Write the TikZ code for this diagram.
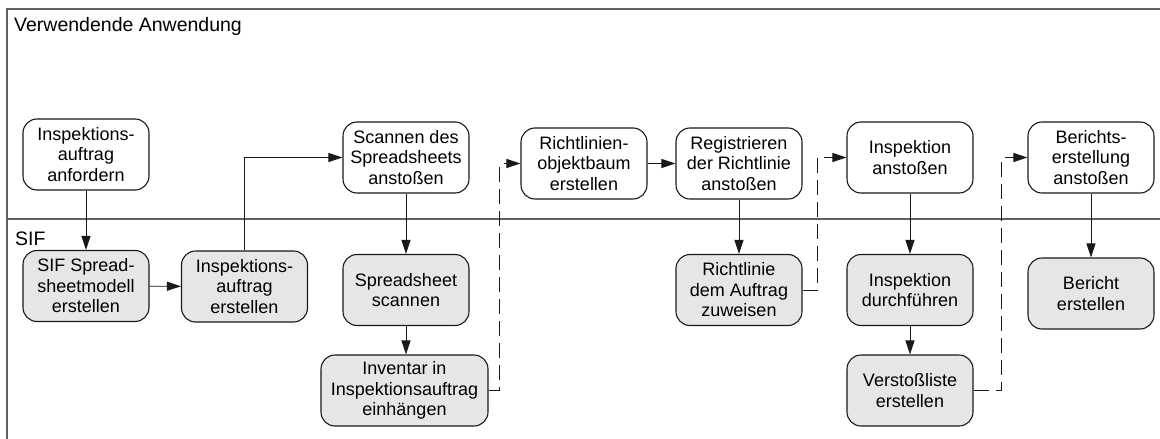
\documentclass[tikz,border=0pt]{standalone}
\usepackage{fontspec}
\setmainfont{Liberation Sans}
\usetikzlibrary{arrows.meta}
\definecolor{boxfill}{RGB}{230,230,230}
\definecolor{framegray}{RGB}{95,95,95}
\definecolor{edgeblack}{RGB}{25,25,25}

\begin{document}
\begin{tikzpicture}[x=1pt,y=-1pt,
  proc/.style={draw=edgeblack, line width=1.1pt, rounded corners=14pt,
    minimum width=126pt, minimum height=71pt, inner sep=0pt,
    align=center, font=\fontsize{18}{20.5}\selectfont},
  sys/.style={proc, fill=boxfill},
  flow/.style={draw=edgeblack, line width=0.9pt, -{Triangle[length=14pt,width=9pt]}},
  handoff/.style={flow, dash pattern=on 15pt off 7pt},
  lane/.style={line width=1.4pt, draw=framegray},
  lanelabel/.style={anchor=base west, inner sep=0pt, font=\fontsize{19.5}{22}\selectfont}]

\useasboundingbox (0,0) rectangle (1160,439);

% swimlane frame
\draw[lane] (1160,9) -- (7,9) -- (7,439);
\draw[lane] (7,219) -- (1160,219);
\node[lanelabel] (laneA) at (14,31.5) {Verwendende Anwendung};
\node[lanelabel] (laneB) at (15,245) {SIF};

% calling application
\node[proc] (req)   at (86,154.5)  {Inspektions-\\auftrag\\anfordern};
\node[proc] (scanA) at (406,157.5) {Scannen des\\Spreadsheets\\anstoßen};
\node[proc] (tree)  at (584,163.5) {Richtlinien-\\objektbaum\\erstellen};
\node[proc] (reg)   at (739,163.5) {Registrieren\\der Richtlinie\\anstoßen};
\node[proc] (inspA) at (910,157.5) {Inspektion\\anstoßen};
\node[proc] (repA)  at (1091,157.5) {Berichts-\\erstellung\\anstoßen};

% SIF
\node[sys] (model)  at (86,286)    {SIF Spread-\\sheetmodell\\erstellen};
\node[sys] (order)  at (244.5,286.5) {Inspektions-\\auftrag\\erstellen};
\node[sys] (scan)   at (406,290)   {Spreadsheet\\scannen};
\node[sys, minimum width=167pt] (inv) at (404.5,390.5) {Inventar in\\Inspektionsauftrag\\einhängen};
\node[sys] (assign) at (739,290)   {Richtlinie\\dem Auftrag\\zuweisen};
\node[sys] (run)    at (910,290)   {Inspektion\\durchführen};
\node[sys] (viol)   at (910,390.5) {Verstoßliste\\erstellen};
\node[sys] (rep)    at (1091,293.5) {Bericht\\erstellen};

% control flow
\draw[flow] (req) -- (model);
\draw[flow] (model) -- (order);
\draw[flow] (order.north) |- (scanA.west);
\draw[flow] (scanA) -- (scan);
\draw[flow] (scan.south) -- (scan.south |- inv.north);
\draw[flow] (tree) -- (reg);
\draw[flow] (reg) -- (assign);
\draw[flow] (inspA) -- (run);
\draw[flow] (run) -- (viol);
\draw[flow] (repA) -- (rep);

% asynchronous hand-offs
\draw[handoff] (inv.east) -- ++(11,0) |- (tree.west);
\draw[handoff] (assign.east) -- ++(15,0) |- (inspA.west);
\draw[handoff] (viol.east) -- ++(28,0) |- (repA.west);
\end{tikzpicture}
\end{document}
